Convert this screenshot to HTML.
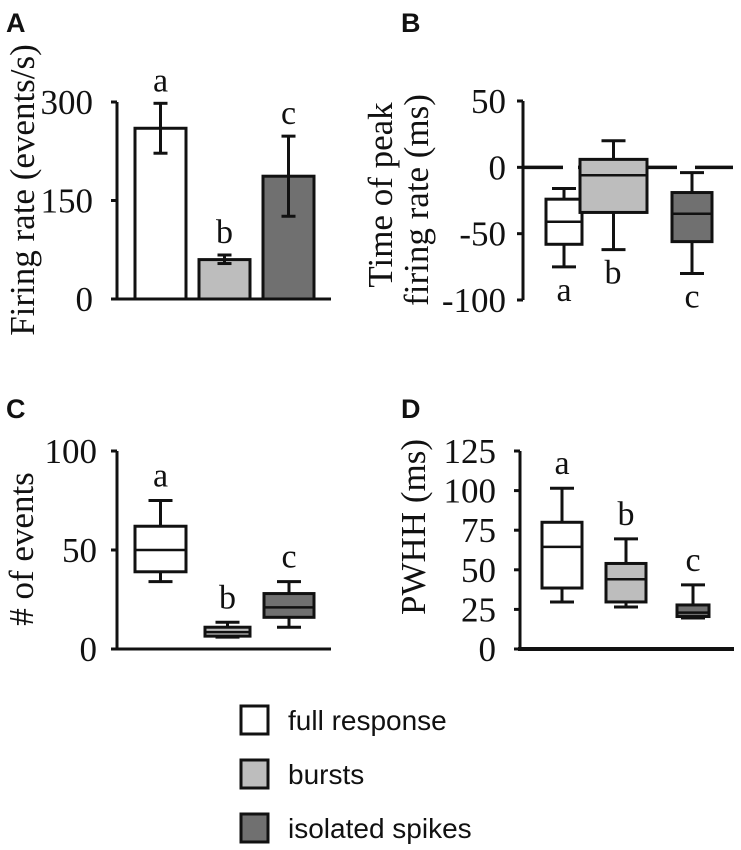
<!DOCTYPE html>
<html><head><meta charset="utf-8"><style>
html,body{margin:0;padding:0;background:#fff}
svg{display:block}
.tk{font-family:"Liberation Serif",serif;font-size:35px;fill:#111}
.tt{font-family:"Liberation Serif",serif;font-size:35px;fill:#111}
.pl{font-family:"Liberation Sans",sans-serif;font-size:27px;font-weight:bold;fill:#111}
.lg{font-family:"Liberation Sans",sans-serif;font-size:28px;fill:#111}
.lt{font-family:"Liberation Serif",serif;font-size:34px;fill:#111}
</style></head><body>
<svg id="fig" width="741" height="850" viewBox="0 0 741 850">
<text class="pl" x="6" y="32">A</text>
<text class="pl" x="401" y="32">B</text>
<text class="pl" x="6" y="418">C</text>
<text class="pl" x="401" y="418">D</text>
<text class="tt" transform="translate(34,190) rotate(-90)" text-anchor="middle">Firing rate (events/s)</text>
<text class="tt" transform="translate(392,195) rotate(-90)" text-anchor="middle">Time of peak</text>
<text class="tt" transform="translate(428,200) rotate(-90)" text-anchor="middle">firing rate (ms)</text>
<text class="tt" transform="translate(33,549) rotate(-90)" text-anchor="middle"># of events</text>
<text class="tt" transform="translate(425,527) rotate(-90)" text-anchor="middle">PWHH (ms)</text>
<g>
<rect x="241" y="706" width="27" height="28" fill="#fff" stroke="#111" stroke-width="3"/>
<text class="lg" x="288" y="730">full response</text>
<rect x="241" y="760" width="27" height="28" fill="#bdbdbd" stroke="#111" stroke-width="3"/>
<text class="lg" x="288" y="784">bursts</text>
<rect x="241" y="814" width="27" height="28" fill="#707070" stroke="#111" stroke-width="3"/>
<text class="lg" x="288" y="838">isolated spikes</text>
</g>
</svg>
<script>
const fills = ["#ffffff", "#bdbdbd", "#707070"];
const groupNames = ["full-response", "bursts", "isolated-spikes"];
// Panel A
const aTicks = [0, 150, 300];
const aMeans = [260, 60, 187];
const aErrLo = [222, 54, 126];
const aErrHi = [298, 67, 248];
const aLetters = ["a", "b", "c"];
// Panel B
const bTicks = [-100, -50, 0, 50];
const bWhiskLo = [-75, -62, -80];
const bQ1 = [-58, -34, -56];
const bMed = [-41, -6, -35];
const bQ3 = [-24, 6, -19];
const bWhiskHi = [-16, 20, -4];
const bLetters = ["a", "b", "c"];
// Panel C
const cTicks = [0, 50, 100];
const cWhiskLo = [34, 6, 11];
const cQ1 = [39, 6.5, 16];
const cMed = [50, 8.5, 21];
const cQ3 = [62, 11, 28];
const cWhiskHi = [75, 13.5, 34];
const cLetters = ["a", "b", "c"];
// Panel D
const dTicks = [0, 25, 50, 75, 100, 125];
const dWhiskLo = [29.7, 26.5, 19.6];
const dQ1 = [38.5, 29.7, 20.5];
const dMed = [64.5, 44, 23];
const dQ3 = [80, 54, 27.8];
const dWhiskHi = [101.5, 69.5, 40.5];
const dLetters = ["a", "b", "c"];

const svg = document.getElementById('fig');
const NS = "http://www.w3.org/2000/svg";
function mk(tag, attrs) {
  const e = document.createElementNS(NS, tag);
  for (const k in attrs) e.setAttribute(k, attrs[k]);
  svg.appendChild(e);
  return e;
}
function scale(d0, d1, r0, r1) { return v => r0 + (v - d0) * (r1 - r0) / (d1 - d0); }
function line(x1, y1, x2, y2, w) { return mk('line', {x1, y1, x2, y2, stroke: '#111', 'stroke-width': w || 3}); }

function yAxis(panel, x, y, ticks, top, bottom, labelRight) {
  const ax = line(x, y(top), x, y(bottom));
  
  
  ticks.forEach(t => {
    const tl = line(x - 6, y(t), x, y(t));
    
    
    const tx = mk('text', {x: labelRight, y: y(t) + 12, 'text-anchor': 'end', class: 'tk'});
    tx.textContent = t;
    
    
  });
}
function letter(panel, i, x, yy, s) {
  const t = mk('text', {x, y: yy, 'text-anchor': 'middle', class: 'lt'});
  t.textContent = s;
  
  
}
function box(panel, i, x0, x1, y, lo, q1, med, q3, hi) {
  const cx = (x0 + x1) / 2, cw = 12;
  const g1 = line(cx, y(hi), cx, y(q3));
  
  
  const g2 = line(cx, y(q1), cx, y(lo));
  
  
  const c1 = line(cx - cw, y(hi), cx + cw, y(hi));
  
  
  const c2 = line(cx - cw, y(lo), cx + cw, y(lo));
  
  
  const r = mk('rect', {x: x0, y: y(q3), width: x1 - x0, height: Math.max(1, y(q1) - y(q3)), fill: fills[i], stroke: '#111', 'stroke-width': 3});
  
  
  const m = line(x0, y(med), x1, y(med), 2.5);
  
  
}

// Panel A
(function(){
  const y = scale(0, 300, 299, 102);
  const xs = [[135,186],[199,250],[263,314]];
  yAxis('a', 117, y, aTicks, 300, 0, 93);
  aMeans.forEach((v, i) => {
    const [x0, x1] = xs[i];
    const r = mk('rect', {x: x0, y: y(v), width: x1 - x0, height: y(0) - y(v), fill: fills[i], stroke: '#111', 'stroke-width': 3});
    
    
    const cx = (x0 + x1) / 2;
    const e = line(cx, y(aErrHi[i]), cx, y(aErrLo[i]));
    
    
    const e1 = line(cx - 7, y(aErrHi[i]), cx + 7, y(aErrHi[i]));
    
    
    const e2 = line(cx - 7, y(aErrLo[i]), cx + 7, y(aErrLo[i]));
    
    
    letter('a', i, cx, y(aErrHi[i]) - 12, aLetters[i]);
  });
  const xa = line(115, y(0), 331, y(0));
  
  
})();

// Panel B
(function(){
  const y = scale(-100, 50, 300, 101);
  yAxis('b', 523, y, bTicks, 50, -100, 506);
  [[523,563],[578,677],[695,733]].forEach(s => {
    const z = line(s[0], y(0), s[1], y(0), 3.5);
    
    
  });
  const xs = [[546,582],[580,647],[672,712]];
  bQ1.forEach((_, i) => {
    box('b', i, xs[i][0], xs[i][1], y, bWhiskLo[i], bQ1[i], bMed[i], bQ3[i], bWhiskHi[i]);
    const cx = (xs[i][0] + xs[i][1]) / 2;
    letter('b', i, i === 1 ? 613 : cx, y(bWhiskLo[i]) + 34, bLetters[i]);
  });
})();

// Panel C
(function(){
  const y = scale(0, 100, 649, 451);
  yAxis('c', 117, y, cTicks, 100, 0, 97);
  const xs = [[135,186],[205,250],[264,314]];
  cQ1.forEach((_, i) => {
    box('c', i, xs[i][0], xs[i][1], y, cWhiskLo[i], cQ1[i], cMed[i], cQ3[i], cWhiskHi[i]);
    const cx = (xs[i][0] + xs[i][1]) / 2;
    letter('c', i, cx, y(cWhiskHi[i]) - 14, cLetters[i]);
  });
  const xa = line(115, y(0), 331, y(0));
  
  
})();

// Panel D
(function(){
  const y = scale(0, 125, 649, 451);
  yAxis('d', 520, y, dTicks, 125, 0, 496);
  const xs = [[542,582],[606,646],[677,709]];
  dQ1.forEach((_, i) => {
    box('d', i, xs[i][0], xs[i][1], y, dWhiskLo[i], dQ1[i], dMed[i], dQ3[i], dWhiskHi[i]);
    const cx = (xs[i][0] + xs[i][1]) / 2;
    letter('d', i, cx, y(dWhiskHi[i]) - 14, dLetters[i]);
  });
  const xa = line(518, y(0), 734, y(0), 4);
  
  
})();
</script>
</body></html>
